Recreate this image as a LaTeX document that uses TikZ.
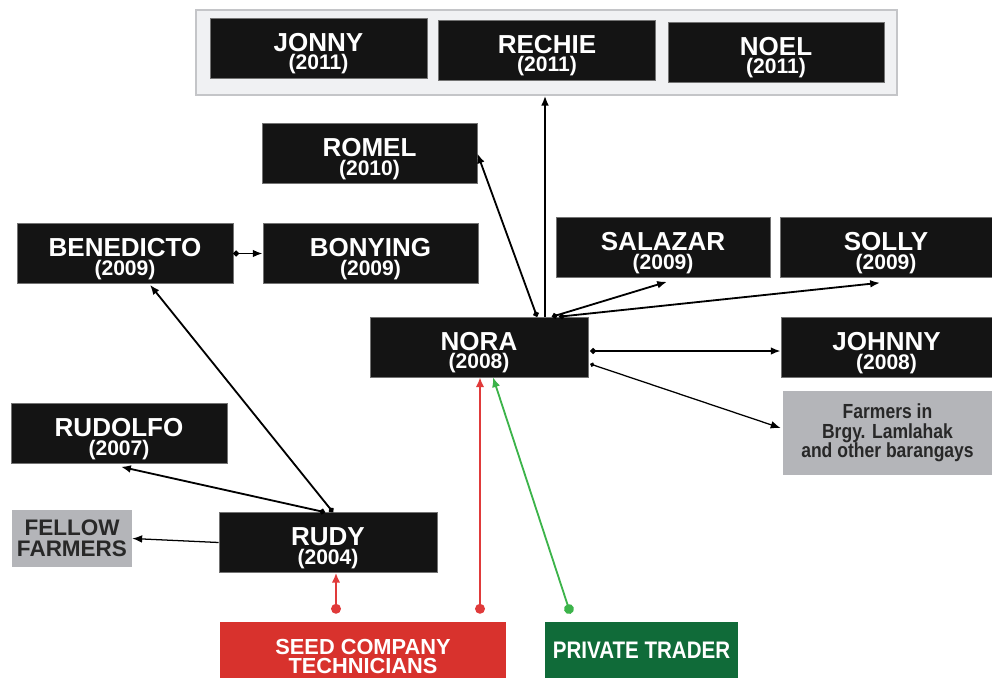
\documentclass[tikz,border=0pt]{standalone}
\usepackage{fontspec}
\setmainfont{Liberation Sans}
\newfontfamily\narrowsf[FakeStretch=0.86]{Liberation Sans}
\usetikzlibrary{arrows.meta,positioning,calc}
\definecolor{boxblack}{RGB}{20,20,20}
\definecolor{boxgray}{RGB}{180,181,185}
\definecolor{textgray}{RGB}{40,40,40}
\definecolor{seedred}{RGB}{216,50,45}
\definecolor{tradergreen}{RGB}{16,107,57}
\definecolor{linkred}{RGB}{224,58,58}
\definecolor{linkgreen}{RGB}{60,179,74}
\definecolor{groupfill}{RGB}{240,241,243}
\definecolor{groupline}{RGB}{196,197,200}
\newcommand{\who}[2]{\rule{0pt}{21pt}#1\\{\fontsize{15}{13}\selectfont(#2)}}

\begin{document}
\begin{tikzpicture}[
  x=0.025cm,y=-0.025cm,
  box/.style={fill=boxblack,draw=black!55,text=white,inner sep=0pt,
    minimum width=5.43cm,minimum height=1.5cm,align=center,
    font=\fontsize{18.5}{13}\selectfont\bfseries},
  graybox/.style={fill=boxgray,text=textgray,inner sep=0pt,align=center},
  link/.style={-{Latex[length=7pt,width=5.5pt]},line width=1.3pt},
  twoway/.style={{Circle[length=4pt]}-{Latex[length=7pt,width=5.5pt]},line width=1.3pt},
  thinlink/.style={{Circle[length=3pt]}-{Latex[length=7pt,width=5.5pt]},line width=0.9pt},
  source/.style={{Circle[length=7pt]}-{Latex[length=7pt,width=6pt]},line width=1.3pt}
]
  \useasboundingbox (0,0) rectangle (992,677);
  % 2011 group
  \node[fill=groupfill,draw=groupline,line width=1.2pt,minimum width=17.52cm,
    minimum height=2.12cm] (group) at (546.5,52.5) {};
  \node[box] (jonny) at (318.5,48) {\who{JONNY}{2011}};
  \node[box] (rechie) at (547,50) {\who{RECHIE}{2011}};
  \node[box,minimum width=5.4cm] (noel) at (776,52) {\who{NOEL}{2011}};
  % 2009-2010
  \node[box,minimum width=5.38cm] (romel) at (369.5,153.5) {\who{ROMEL}{2010}};
  \node[box,minimum width=5.4cm] (benedicto) at (125,253.5) {\who{BENEDICTO}{2009}};
  \node[box,minimum width=5.38cm] (bonying) at (370.5,253.5) {\who{BONYING}{2009}};
  \node[box,minimum width=5.35cm] (salazar) at (663,247.5) {\who{SALAZAR}{2009}};
  \node[box,minimum width=5.3cm] (solly) at (886,247.5) {\who{SOLLY}{2009}};
  % Nora
  \node[box,minimum width=5.45cm] (nora) at (479,347) {\who{NORA}{2008}};
  \node[box,minimum width=5.28cm] (johnny) at (886.5,347.5) {\who{JOHNNY}{2008}};
  \node[graybox,minimum width=5.23cm,minimum height=2.1cm,
    font=\narrowsf\fontsize{14.5}{14}\selectfont\bfseries] (farmers) at (887.5,433)
    {Farmers in\\Brgy. Lamlahak\\and other barangays};
  % Rudy
  \node[box,minimum width=5.4cm] (rudolfo) at (119,433.5) {\who{RUDOLFO}{2007}};
  \node[graybox,minimum width=3cm,minimum height=1.43cm,
    font=\fontsize{16}{15}\selectfont\bfseries] (fellow) at (72,538.5) {FELLOW\\FARMERS};
  \node[box,minimum width=5.45cm] (rudy) at (328,542.5) {\who{RUDY}{2004}};
  % Sources
  \node[fill=seedred,text=white,inner sep=0pt,minimum width=7.15cm,minimum height=1.5cm,
    align=center,font=\fontsize{15.5}{14}\selectfont\bfseries] (seed) at (363,652)
    {\rule{0pt}{17pt}SEED COMPANY\\TECHNICIANS};
  \node[fill=tradergreen,text=white,inner sep=0pt,minimum width=4.83cm,minimum height=1.5cm,
    font=\narrowsf\fontsize{17}{15}\selectfont\bfseries] (trader) at (641.5,652)
    {\raisebox{3pt}{PRIVATE TRADER}};
  % Nora's links
  \coordinate (up) at ($(nora.north)+(66,0)$);
  \draw[link] (up) -- (up |- group.south);
  \draw[twoway] ($(nora.north)+(58,0)$) -- (romel.east);
  \draw[twoway] ($(nora.north)+(73,0)$) -- ($(salazar.south)+(4,4)$);
  \draw[twoway] ($(nora.north)+(80,0)$) -- ($(solly.south)+(-6,5)$);
  \draw[twoway] ($(nora.east)+(2,4)$) -- ($(johnny.west)+(0,3.5)$);
  \draw[thinlink] ($(nora.east)+(2,17)$) -- ($(farmers.west)+(-2,-5)$);
  % Benedicto and Rudy links
  \draw[twoway] (benedicto.east) -- (bonying.west);
  \draw[twoway] ($(rudy.north)+(5,0)$) -- ($(benedicto.south)+(25,1)$);
  \draw[twoway] ($(rudy.north)+(-3,0)$) -- ($(rudolfo.south)+(2,3)$);
  \draw[-{Latex[length=7pt,width=5.5pt]},line width=0.9pt] (rudy.west) -- (fellow.east);
  % Source links
  \coordinate (tech1) at ($(seed.north)+(-27,-8)$);
  \coordinate (tech2) at ($(seed.north)+(117,-8)$);
  \draw[source,linkred] (tech1) -- (tech1 |- rudy.south);
  \draw[source,linkred] (tech2) -- (tech2 |- nora.south);
  \draw[source,linkgreen] ($(trader.north)+(-71,-8)$) -- ($(nora.south)+(14,0)$);
\end{tikzpicture}
\end{document}
